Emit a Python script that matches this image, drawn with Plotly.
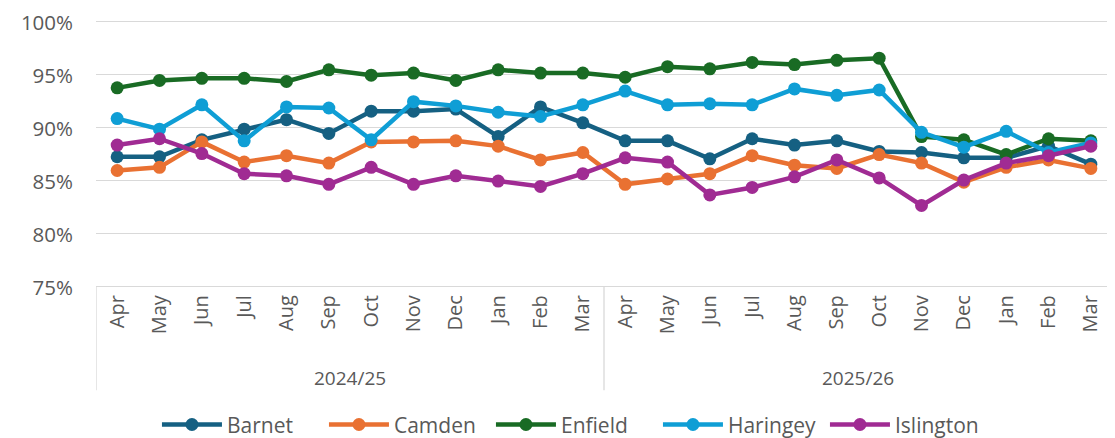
import plotly.graph_objects as go

months = ["Apr", "May", "Jun", "Jul", "Aug", "Sep", "Oct", "Nov", "Dec", "Jan", "Feb", "Mar"]
years = ["2024/25", "2025/26"]

barnet = [87.2, 87.2, 88.8, 89.8, 90.7, 89.4, 91.5, 91.5, 91.7, 89.1, 91.9, 90.4,
          88.7, 88.7, 87.0, 88.9, 88.3, 88.7, 87.7, 87.6, 87.1, 87.1, 88.2, 86.5]
camden = [85.9, 86.2, 88.6, 86.7, 87.3, 86.6, 88.6, 88.6, 88.7, 88.2, 86.9, 87.6,
          84.6, 85.1, 85.6, 87.3, 86.4, 86.1, 87.4, 86.6, 84.8, 86.2, 86.9, 86.1]
enfield = [93.7, 94.4, 94.6, 94.6, 94.3, 95.4, 94.9, 95.1, 94.4, 95.4, 95.1, 95.1,
           94.7, 95.7, 95.5, 96.1, 95.9, 96.3, 96.5, 89.1, 88.8, 87.4, 88.9, 88.7]
haringey = [90.8, 89.8, 92.1, 88.7, 91.9, 91.8, 88.8, 92.4, 92.0, 91.4, 91.0, 92.1,
            93.4, 92.1, 92.2, 92.1, 93.6, 93.0, 93.5, 89.5, 88.1, 89.6, 87.6, 88.5]
islington = [88.3, 88.9, 87.5, 85.6, 85.4, 84.6, 86.2, 84.6, 85.4, 84.9, 84.4, 85.6,
             87.1, 86.7, 83.6, 84.3, 85.3, 86.9, 85.2, 82.6, 85.0, 86.6, 87.3, 88.2]

series = [("Barnet", barnet, "#156082"), ("Camden", camden, "#E97132"),
          ("Enfield", enfield, "#196B24"), ("Haringey", haringey, "#0F9ED5"),
          ("Islington", islington, "#A02B93")]

cats = [f"{y} {m}" for y in years for m in months]
ticktext = [m for y in years for m in months]

FONT = "Open Sans"
GREY = "#595959"
LINE = "#D9D9D9"

fig = go.Figure()
for name, vals, col in series:
    fig.add_trace(go.Scatter(
        x=cats, y=vals, name=name, mode="lines+markers",
        line=dict(color=col, width=4.5),
        marker=dict(color=col, size=13),
    ))

fig.update_layout(
    width=1107, height=430,
    margin=dict(l=88, r=3, t=11, b=152, autoexpand=False),
    plot_bgcolor="white", paper_bgcolor="white",
    font=dict(family=FONT, color=GREY, size=19),
    showlegend=True,
    legend=dict(orientation="h", x=0.06, xanchor="left", y=-0.52, yanchor="middle",
                font=dict(size=21, color=GREY), itemwidth=60, tracegroupgap=0,
                entrywidth=92, entrywidthmode="pixels"),
)
fig.update_xaxes(
    type="category", categoryorder="array", categoryarray=cats,
    range=[-0.5, 23.5], automargin=False,
    tickmode="array", tickvals=cats, ticktext=ticktext, tickangle=-90,
    tickfont=dict(size=20, color=GREY), ticks="", showgrid=False,
    showline=True, linecolor=LINE, linewidth=1.3, zeroline=False,
)
fig.update_yaxes(
    range=[75, 100.2], tickvals=[75, 80, 85, 90, 95, 100], automargin=False,
    ticktext=["75%", "80%", "85%", "90%", "95%", "100%"], ticklabeloverflow="allow",
    tickfont=dict(size=20.5, color=GREY), gridcolor=LINE, gridwidth=1.3,
    showline=False, zeroline=False, ticks="", ticklabelstandoff=22, ticklabelshift=2,
)

# hierarchical category box
for xv in [-0.5, 11.5, 23.5]:
    fig.add_shape(type="line", xref="x", yref="paper", x0=xv, x1=xv, y0=0, y1=-0.39,
                  line=dict(color=LINE, width=1.3))
for i, yr in enumerate(years):
    fig.add_annotation(x=5.5 + 12 * i, y=-0.345, xref="x", yref="paper", text=yr,
                       showarrow=False, font=dict(size=19, color=GREY), yanchor="middle")

fig.write_html("out.html")
